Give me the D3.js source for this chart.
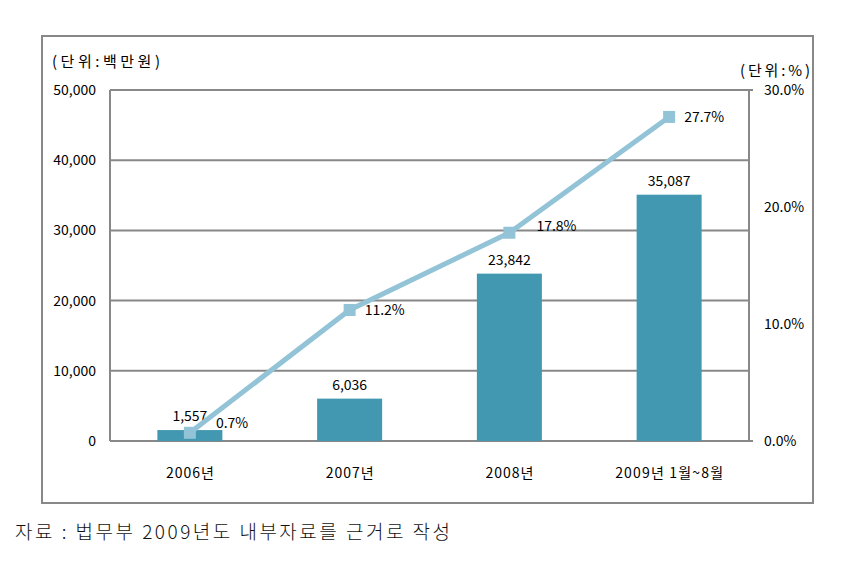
<!DOCTYPE html>
<html><head><meta charset="utf-8">
<script src="https://cdn.jsdelivr.net/npm/d3@7"></script>
<style>body{margin:0;background:#fff}svg{display:block}</style>
</head><body>
<script>
const categories = ["2006년", "2007년", "2008년", "2009년 1월~8월"];
const amounts = [1557, 6036, 23842, 35087];
const rates = [0.7, 11.2, 17.8, 27.7];
const leftTicks = [0, 10000, 20000, 30000, 40000, 50000];
const rightTicks = [0, 10, 20, 30];
const rateLabelDx = [26, 15, 27, 15];
const rateLabelDy = [-10, 0, -7, 0];
const categoryWidths = [48, 48, 48, 108];

const W = 852, H = 571;
const svg = d3.select("body").append("svg").attr("width", W).attr("height", H);
const font = "'Noto Sans CJK KR', 'Noto Sans', sans-serif";
const grey = "#888";

svg.append("rect").attr("x", 42).attr("y", 36).attr("width", 771).attr("height", 467)
  .attr("fill", "none").attr("stroke", grey).attr("stroke-width", 2);

const L = 110, R = 749, T = 90, B = 441;
const x = d3.scaleBand().domain(categories).range([L, R]);
const y = d3.scaleLinear().domain([0, 50000]).range([B, T]);
const y2 = d3.scaleLinear().domain([0, 30]).range([B, T]);

// grid
svg.append("g").selectAll("line").data(leftTicks).join("line")
  .attr("x1", L).attr("x2", d => (d === 0 || d === 50000) ? R + 4 : R)
  .attr("y1", d => y(d)).attr("y2", d => y(d))
  .attr("stroke", grey).attr("stroke-width", 2);
svg.append("line").attr("x1", L).attr("x2", L).attr("y1", T).attr("y2", B).attr("stroke", grey).attr("stroke-width", 2);
svg.append("line").attr("x1", R).attr("x2", R).attr("y1", T).attr("y2", B).attr("stroke", grey).attr("stroke-width", 2);

// left tick labels
svg.append("g").selectAll("text").data(leftTicks).join("text")
  .attr("x", 96).attr("y", d => y(d)).attr("dy", "0.35em")
  .attr("text-anchor", "end").attr("font-family", font).attr("font-size", 14)
  .text(d3.format(","));
// right tick labels
svg.append("g").selectAll("text").data(rightTicks).join("text")
  .attr("x", 764).attr("y", d => y2(d)).attr("dy", "0.35em")
  .attr("font-family", font).attr("font-size", 14)
  .text(d => d3.format(".1f")(d) + "%");

// units
svg.append("text").attr("x", 52).attr("y", 67).attr("font-family", font).attr("font-size", 15)
  .attr("textLength", 108).attr("lengthAdjust", "spacing").text("(단위:백만원)");
svg.append("text").attr("x", 740).attr("y", 76).attr("font-family", font).attr("font-size", 15)
  .attr("textLength", 70).attr("lengthAdjust", "spacing").text("(단위:%)");

// bars
const bw = 65;
svg.append("g").selectAll("rect").data(amounts).join("rect")
  .attr("x", (d, i) => x(categories[i]) + x.bandwidth() / 2 - bw / 2)
  .attr("width", bw)
  .attr("y", d => y(d)).attr("height", d => B - y(d))
  .attr("fill", "#4398b1");
svg.append("g").selectAll("text").data(amounts).join("text")
  .attr("x", (d, i) => x(categories[i]) + x.bandwidth() / 2)
  .attr("y", d => y(d) - 9)
  .attr("text-anchor", "middle").attr("font-family", font).attr("font-size", 14)
  .text(d3.format(","));

// category labels
svg.append("g").selectAll("text").data(categories).join("text")
  .attr("x", d => x(d) + x.bandwidth() / 2).attr("y", 473).attr("dy", "0.35em")
  .attr("text-anchor", "middle").attr("font-family", font).attr("font-size", 14)
  .attr("textLength", (d, i) => categoryWidths[i]).attr("lengthAdjust", "spacing")
  .text(d => d);

// line
const pts = rates.map((r, i) => [x(categories[i]) + x.bandwidth() / 2, y2(r)]);
svg.append("path").datum(pts).attr("d", d3.line())
  .attr("fill", "none").attr("stroke", "#92c3d7").attr("stroke-width", 5);
svg.append("g").selectAll("rect").data(pts).join("rect")
  .attr("x", d => d[0] - 6).attr("y", d => d[1] - 6).attr("width", 12).attr("height", 12)
  .attr("fill", "#92c3d7");
svg.append("g").selectAll("text").data(rates).join("text")
  .attr("x", (d, i) => pts[i][0] + rateLabelDx[i])
  .attr("y", (d, i) => pts[i][1] + rateLabelDy[i]).attr("dy", "0.35em")
  .attr("font-family", font).attr("font-size", 14)
  .text(d => d3.format(".1f")(d) + "%");

// source
svg.append("text").attr("x", 15).attr("y", 539).attr("font-family", "'Noto Sans CJK KR', serif")
  .attr("font-size", 19).attr("font-weight", 300).attr("fill", "#111")
  .attr("textLength", 435).attr("lengthAdjust", "spacing")
  .text("자료 : 법무부 2009년도 내부자료를 근거로 작성");
</script>
</body></html>
